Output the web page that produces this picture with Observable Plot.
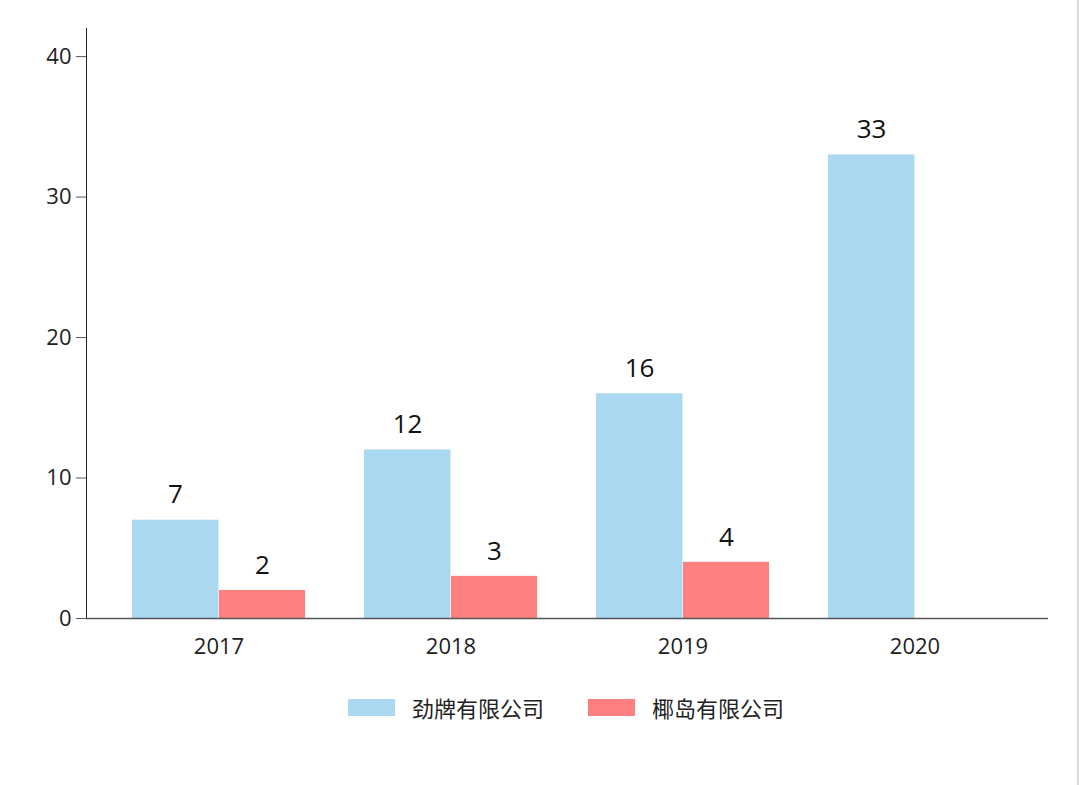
<!DOCTYPE html>
<html>
<head>
<meta charset="utf-8">
<script src="https://cdn.jsdelivr.net/npm/d3@7"></script>
<script src="https://cdn.jsdelivr.net/npm/@observablehq/plot@0.6"></script>
<style>
  html, body { margin: 0; padding: 0; background: #fff; }
  #wrap { position: relative; width: 1080px; height: 785px; font-family: "Open Sans", "Noto Sans CJK SC", sans-serif; }
  #edge { position: absolute; left: 1077px; top: 0; width: 2px; height: 785px; background: #d8d8d8; }
  #legend { display: flex; justify-content: center; align-items: center; gap: 44px; margin-top: 11px; padding-left: 52px; font-size: 22px; color: #222; font-family: "Noto Sans CJK SC", "Open Sans", sans-serif; }
  .item { display: flex; align-items: center; gap: 17px; }
  .sw { width: 47px; height: 17px; display: inline-block; }
</style>
</head>
<body>
<div id="wrap">
  <div id="chart"></div>
  <div id="legend"></div>
  <div id="edge"></div>
</div>
<script>
const years = ["2017", "2018", "2019", "2020"];
const seriesNames = ["劲牌有限公司", "椰岛有限公司"];
const jinpai = [7, 12, 16, 33];
const yedao = [2, 3, 4, null];
const colors = ["#acd9f2", "#fe7f7f"];

const W = 1080, H = 680;
const mL = 86, mR = 32, mT = 28, mB = 62;
const padInner = 0.253, padOuter = 0.191;
const step = (W - mL - mR) / (years.length - padInner + 2 * padOuter);
const bw = step * (1 - padInner);

const rowsA = years.map((y, i) => ({year: y, company: seriesNames[0], value: jinpai[i]})).filter(d => d.value != null);
const rowsB = years.map((y, i) => ({year: y, company: seriesNames[1], value: yedao[i]})).filter(d => d.value != null);

const chart = Plot.plot({
  width: W,
  height: H,
  marginLeft: mL,
  marginRight: mR,
  marginTop: mT,
  marginBottom: mB,
  style: {fontSize: "22px", fontFamily: "'Open Sans', 'Noto Sans CJK SC', sans-serif", color: "#222", background: "#fff", overflow: "visible"},
  x: {domain: years, paddingInner: padInner, paddingOuter: padOuter, tickSize: 0, tickPadding: 20, label: null},
  y: {domain: [0, 42], ticks: [0, 10, 20, 30, 40], tickSize: 10, tickPadding: 5, label: null, line: true},
  marks: [
    Plot.barY(rowsA, {x: "year", y: "value", fill: colors[0], insetRight: bw / 2 - 0.5}),
    Plot.barY(rowsB, {x: "year", y: "value", fill: colors[1], insetLeft: bw / 2}),
    Plot.text(rowsA, {x: "year", y: "value", text: d => String(d.value), dx: -bw / 4, dy: -25, fontSize: 26, fill: "#111"}),
    Plot.text(rowsB, {x: "year", y: "value", text: d => String(d.value), dx: bw / 4, dy: -25, fontSize: 26, fill: "#111"}),
    Plot.ruleY([0], {stroke: "#555", strokeWidth: 1.5})
  ]
});
d3.select(chart).selectAll("[aria-label='y-axis tick'], [aria-label='y-axis line'], [aria-label='y-axis']").attr("stroke", "#555");
document.getElementById("chart").appendChild(chart);

const legend = document.getElementById("legend");
seriesNames.forEach((name, i) => {
  const item = document.createElement("div");
  item.className = "item";
  const sw = document.createElement("span");
  sw.className = "sw";
  sw.style.background = colors[i];
  const label = document.createElement("span");
  label.textContent = name;
  item.appendChild(sw);
  item.appendChild(label);
  legend.appendChild(item);
});
</script>
</body>
</html>
